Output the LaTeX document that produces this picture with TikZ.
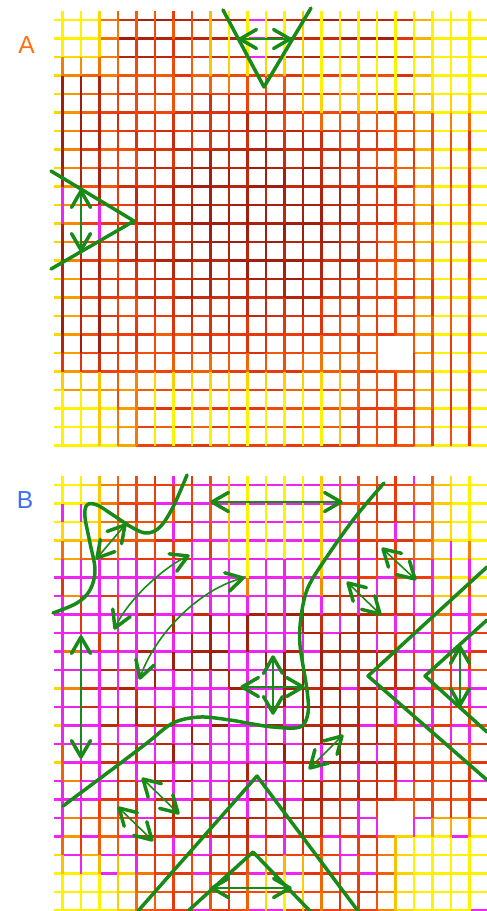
\documentclass[tikz,border=0pt]{standalone}
\usepackage{fontspec}
\setmainfont{Liberation Sans}
\usetikzlibrary{calc}
\definecolor{gr}{RGB}{24,138,24}
\definecolor{cy}{RGB}{255,242,0}
\definecolor{co}{RGB}{247,165,0}
\definecolor{cr}{RGB}{238,60,12}
\definecolor{cd}{RGB}{160,30,14}
\definecolor{mg}{RGB}{240,36,240}
\definecolor{cA}{RGB}{255,112,16}
\definecolor{cB}{RGB}{62,108,250}
\tikzset{
  gline/.style={draw=gr,line width=1.75pt,line cap=round,line join=round},
  gshaft/.style={draw=gr,line width=1pt},
  gshaftthin/.style={draw=gr,line width=0.8pt},
  gridln/.style={line width=1.25pt},
  lab/.style={inner sep=0pt,font=\fontsize{12.3}{14}\selectfont},
}
% chevron head: tip #1, pointing away from #2
\newcommand\chev[2]{\draw[gline] ($(#1)!9.5pt!30:(#2)$) -- (#1) -- ($(#1)!9.5pt!-30:(#2)$);}
\newcommand\darrow[3][gshaft]{\draw[#1] (#2) -- (#3); \chev{#2}{#3}\chev{#3}{#2}}
\newcommand\hmseg[6]{%
  \pgfmathsetmacro\mx{(#1+#3)/2}%
  \pgfmathsetmacro\my{(#2+#4)/2}%
  \ifnum#6=0
    \ifnum#5=0
      \pgfmathsetmacro\Yw{max(bx(\mx,\my,-100,68,-100,600),bx(\mx,\my,-100,105,-100,66),bx(\mx,\my,-100,125,392,600),bx(\mx,\my,420,700,-100,600))}%
      \pgfmathsetmacro\Cw{max(cb(\mx,\my,250,220,150,140),0.8*bx(\mx,\my,110,400,-100,62))}%
      \pgfmathsetmacro\Pm{(\mx>250)*(\mx<262)*(\my<60)}%
    \else
      \pgfmathsetmacro\Yw{max(bx(\mx,\my,-100,108,-100,66),bx(\mx,\my,205,310,-100,75),bx(\mx,\my,295,700,-100,112),bx(\mx,\my,-100,106,372,600),bx(\mx,\my,142,345,372,600))}%
      \pgfmathsetmacro\Cw{max(cb(\mx,\my,250,220,150,140),bx(\mx,\my,50,110,60,370))}%
      \pgfmathsetmacro\Pm{(\mx<65)*(\my>190)*(\my<220)+(\mx>95)*(\mx<103)*(\my>205)*(\my<240)}%
    \fi
  \else
    \ifnum#5=0
      \pgfmathsetmacro\Yw{max(bx(\mx,\my,-100,68,-100,600),bx(\mx,\my,-100,100,-100,80),bx(\mx,\my,435,700,-100,140),bx(\mx,\my,-100,135,390,600),bx(\mx,\my,395,700,355,600))}%
      \pgfmathsetmacro\Pm{max(0.95*(\mx>185)*(\mx<352)*(\my<118),0.7*(\mx>58)*(\mx<300)*(\my>95)*(\my<335),0.35*(\mx>400)*(\my>95)*(\my<325),0.25*(\mx>55)*(\mx<380)*(\my>335)*(\my<415),0.15*(\mx>300)*(\mx<400)*(\my>75)*(\my<335),0.06)}%
    \else
      \pgfmathsetmacro\Yw{max(bx(\mx,\my,-100,105,-100,75),bx(\mx,\my,222,330,-100,120),bx(\mx,\my,440,700,-100,80),bx(\mx,\my,-100,125,395,600),bx(\mx,\my,255,310,395,600),bx(\mx,\my,390,700,360,600))}%
      \pgfmathsetmacro\Pm{max(0.15*(\mx>185)*(\mx<352)*(\my<118),0.7*(\mx>58)*(\mx<300)*(\my>95)*(\my<335),0.35*(\mx>400)*(\my>95)*(\my<325),0.25*(\mx>55)*(\mx<380)*(\my>335)*(\my<415),0.15*(\mx>300)*(\mx<400)*(\my>75)*(\my<335),0.06)}%
    \fi
    \pgfmathsetmacro\Cw{cb(\mx,\my,250,230,200,190)}%
  \fi
  \pgfmathsetmacro\Tw{(1-\Yw)*(0.64+0.36*\Cw+0.2*(rnd-0.5))}%
  \pgfmathsetmacro\rr{rnd}%
  \ifdim\rr pt<\Pm pt \def\segc{mg}\else
    \pgfmathtruncatemacro\Lw{min(299,max(0,300*\Tw))}%
    \ifnum\Lw<100 \edef\segc{co!\Lw!cy}%
    \else\ifnum\Lw<200 \pgfmathtruncatemacro\Lq{\Lw-100}\edef\segc{cr!\Lq!co}%
    \else \pgfmathtruncatemacro\Lq{\Lw-200}\edef\segc{cd!\Lq!cr}\fi\fi
  \fi
  \draw[gridln,draw=\segc] (#1,#2+\oy) -- (#3,#4+\oy);
}
\begin{document}
\begin{tikzpicture}[x=0.5pt,y=-0.5pt,
  declare function={
    sq(\t)=\t*\t;
    bx(\px,\py,\pa,\pb,\pc,\pd)=min(1,max(0,min(\px-\pa,\pb-\px,\py-\pc,\pd-\py)/30+0.5));
    cb(\px,\py,\pa,\pb,\pc,\pd)=max(0,1-sq((\px-\pa)/\pc)-sq((\py-\pb)/\pd));
  }]
\pgfmathsetseed{4711}
\fill[white] (0,0) rectangle (487,911);
\useasboundingbox (0,0) rectangle (487,911);
% ---------- heat grids ----------
\foreach \pn in {0,1}{
  \pgfmathsetmacro\oy{465*\pn}
  \foreach \jj in {0,...,23}{
    \pgfmathsetmacro\yy{20+18.5*\jj}
    \foreach \kk in {0,...,23}{
      \pgfmathsetmacro\xa{\kk==0 ? 54 : 62.3+18.5*(\kk-1)}
      \pgfmathsetmacro\xb{\kk==23 ? 487 : 62.3+18.5*\kk}
      \pgfmathtruncatemacro\holeq{(\jj==18)&&(\kk>17)&&(\kk<20)}
      \ifnum\holeq=0 \hmseg{\xa}{\yy}{\xb}{\yy}{0}{\pn}\fi
    }
  }
  \foreach \ii in {0,...,22}{
    \pgfmathsetmacro\xx{62.3+18.5*\ii}
    \foreach \kk in {0,...,23}{
      \pgfmathsetmacro\ya{\kk==0 ? 11 : 20+18.5*(\kk-1)}
      \pgfmathsetmacro\yb{20+18.5*\kk}
      \pgfmathtruncatemacro\holeq{(\ii==18)&&(\kk>17)&&(\kk<20)}
      \ifnum\holeq=0 \hmseg{\xx}{\ya}{\xx}{\yb}{1}{\pn}\fi
    }
  }
}
% ---------- labels ----------
\node[lab,text=cA] (nA) at (26.5,45) {A};
\node[lab,text=cB] (nB) at (25,500) {B};
% ---------- panel A ----------
\draw[gline] (223,10) -- (264,87) -- (311,8);
\darrow{240,39}{290,39}
\draw[gline] (51,171) -- (134,221) -- (51,269);
\darrow{81,191}{81,250}
% ---------- panel B ----------
\draw[gline] plot[smooth,tension=0.6] coordinates {(53,613) (77,603) (90,590) (95,570) (90,543) (85,517) (87,505) (97,505) (113,515) (133,528) (147,533) (160,527) (173,507) (187,475)};
\darrow[gshaftthin]{97,558}{125,525}
\draw[gshaftthin] (115,628) .. controls (127,600) and (165,566) .. (188,556);
\chev{115,628}{127,600}\chev{188,556}{165,566}
\draw[gshaftthin] (140,678) .. controls (152,640) and (195,590) .. (243,578);
\chev{140,678}{152,640}\chev{243,578}{195,590}
\darrow{212,502}{341,502}
\darrow{81,637}{81,757}
\draw[gline] plot[smooth,tension=0.55] coordinates {(63,806) (118,765) (147,743) (173,723) (200,717) (230,720) (247,723) (273,727) (300,727) (308,713) (307,690) (300,645) (301,617) (307,590) (320,567) (353,520) (384,483)};
\darrow{273,657}{273,713}
\darrow{242,687}{303,687}
\draw[gline] (487,567) -- (368,676) -- (487,780);
\draw[gline] (487,620) -- (425,676) -- (487,732);
\darrow{460,647}{460,705}
\darrow[gshaftthin]{383,549}{415,579}
\darrow[gshaftthin]{348,583}{380,614}
\darrow[gshaftthin]{310,768}{342,736}
\darrow[gshaftthin]{143,779}{178,813}
\darrow[gshaftthin]{119,808}{152,840}
\draw[gline] (138,911) -- (257,776) -- (358,911);
\draw[gline] (188,911) -- (253,852) -- (310,911);
\darrow{212,888}{290,888}
\end{tikzpicture}
\end{document}
